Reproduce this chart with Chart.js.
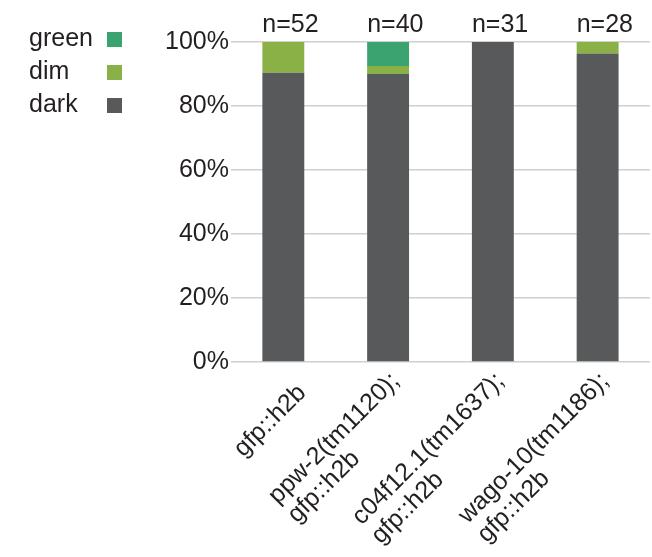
<!DOCTYPE html>
<html>
<head>
<meta charset="utf-8">
<script src="https://cdn.jsdelivr.net/npm/chart.js@4/dist/chart.umd.min.js"></script>
<style>
  html, body { margin: 0; padding: 0; background: #fff; }
  #wrap { width: 652px; height: 557px; position: relative; }
</style>
</head>
<body>
<div id="wrap"><canvas id="chart"></canvas></div>
<script>
// categories (multi-line axis labels)
const categories = [
    ['gfp::h2b'],
    ['ppw-2(tm1120);', 'gfp::h2b'],
    ['c04f12.1(tm1637);', 'gfp::h2b'],
    ['wago-10(tm1186);', 'gfp::h2b'],
];
const nLabels = ['n=52', 'n=40', 'n=31', 'n=28'];

// percent of animals per class
const dark  = [90.4, 90.0, 100, 96.4];
const dim   = [9.6, 2.5, 0, 3.6];
const green = [0, 7.5, 0, 0];

const yTicks = [0, 20, 40, 60, 80, 100];

const FONT = "'Liberation Sans', Arial, sans-serif";
const TEXT = '#231f20';

// n=.. above each bar
const nLabelPlugin = {
    id: 'nLabels',
    afterDatasetsDraw(chart) {
        const { ctx } = chart;
        const meta = chart.getDatasetMeta(0);
        const y = chart.scales.y.getPixelForValue(100);
        ctx.save();
        ctx.font = `25px ${FONT}`;
        ctx.fillStyle = TEXT;
        ctx.textAlign = 'left';
        ctx.textBaseline = 'alphabetic';
        meta.data.forEach((bar, i) => {
            ctx.fillText(nLabels[i], bar.x - bar.width / 2, y - 10);
        });
        ctx.restore();
    }
};

// rotated category labels, lines left aligned like the original
const xLabelPlugin = {
    id: 'xLabels',
    afterDraw(chart) {
        const { ctx, chartArea } = chart;
        const xs = chart.scales.x;
        const lh = 27;
        ctx.save();
        ctx.font = `25px ${FONT}`;
        ctx.fillStyle = TEXT;
        ctx.textAlign = 'left';
        ctx.textBaseline = 'middle';
        categories.forEach((lines, i) => {
            const x = xs.getPixelForValue(i);
            const n = lines.length;
            ctx.save();
            ctx.translate(x + 19, chartArea.bottom + 27);
            ctx.rotate(-Math.PI / 4);
            const w = ctx.measureText(lines[0]).width;
            lines.forEach((ln, k) => {
                ctx.fillText(ln, -w, (k - (n - 1) / 2) * lh - (n - 1) * 3);
            });
            ctx.restore();
        });
        ctx.restore();
    }
};

// legend: text on the left, swatch on the right
const legendPlugin = {
    id: 'sideLegend',
    afterDraw(chart) {
        const { ctx } = chart;
        const items = chart.data.datasets.slice().reverse();
        ctx.save();
        ctx.font = `25px ${FONT}`;
        ctx.textBaseline = 'middle';
        ctx.textAlign = 'left';
        items.forEach((ds, k) => {
            const top = 32 + k * 33;
            ctx.fillStyle = TEXT;
            ctx.fillText(ds.label, 29, top + 7);
            ctx.fillStyle = ds.backgroundColor;
            ctx.fillRect(107, top, 15, 15);
        });
        ctx.restore();
    }
};

new Chart(document.getElementById('chart'), {
    type: 'bar',
    data: {
        labels: categories,
        datasets: [
            { label: 'dark', data: dark, backgroundColor: '#58595b' },
            { label: 'dim', data: dim, backgroundColor: '#8ab145' },
            { label: 'green', data: green, backgroundColor: '#3aa36f' },
        ]
    },
    options: {
        responsive: true,
        maintainAspectRatio: false,
        animation: false,
        datasets: { bar: { barPercentage: 0.4, categoryPercentage: 1 } },
        layout: { padding: { left: 163, right: 2, top: 42, bottom: 187 } },
        plugins: { legend: { display: false }, tooltip: { enabled: false } },
        scales: {
            x: {
                stacked: true,
                grid: { display: false },
                border: { display: false },
                ticks: { display: false }
            },
            y: {
                stacked: true,
                min: 0,
                max: 100,
                afterBuildTicks: (axis) => { axis.ticks = yTicks.map(v => ({ value: v })); },
                grid: { color: '#cfcfcf', lineWidth: 1.5, drawTicks: false },
                border: { display: false },
                ticks: {
                    padding: 2,
                    color: TEXT,
                    font: { family: FONT, size: 25 },
                    callback: v => v + '%'
                }
            }
        }
    },
    plugins: [nLabelPlugin, xLabelPlugin, legendPlugin]
});
</script>
</body>
</html>
